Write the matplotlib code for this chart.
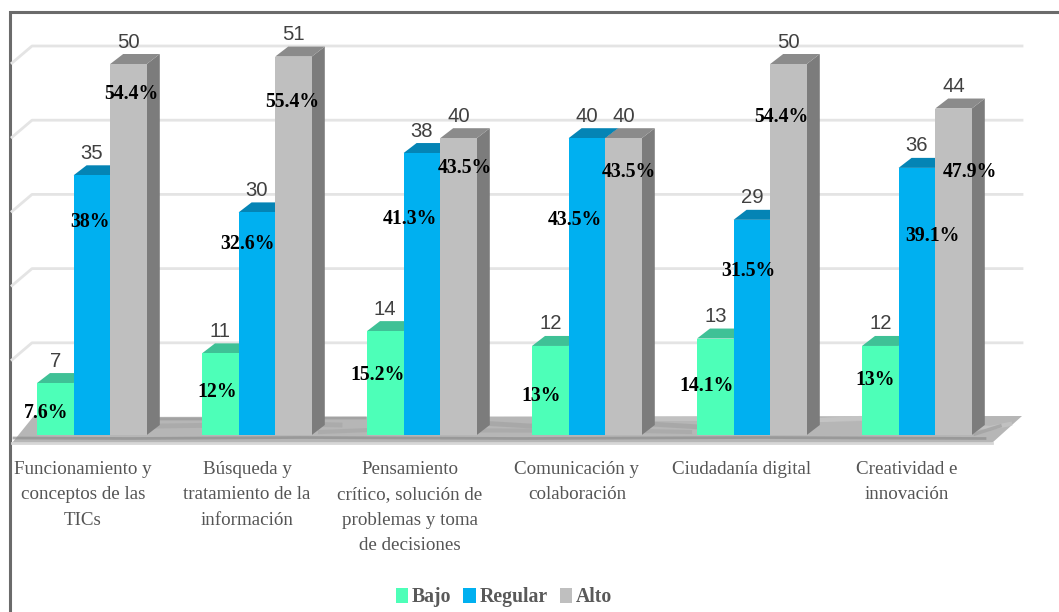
import matplotlib
matplotlib.use("Agg")
import matplotlib.pyplot as plt
from matplotlib.patches import Polygon, Patch

categories = [
    "Funcionamiento y\nconceptos de las\nTICs",
    "Búsqueda y\ntratamiento de la\ninformación",
    "Pensamiento\ncrítico, solución de\nproblemas y toma\nde decisiones",
    "Comunicación y\ncolaboración",
    "Ciudadanía digital",
    "Creatividad e\ninnovación",
]
bajo = [7, 11, 14, 12, 13, 12]
regular = [35, 30, 38, 40, 29, 36]
alto = [50, 51, 40, 40, 50, 44]
bajo_pct = ["7.6%", "12%", "15.2%", "13%", "14.1%", "13%"]
regular_pct = ["38%", "32.6%", "41.3%", "43.5%", "31.5%", "39.1%"]
alto_pct = ["54.4%", "55.4%", "43.5%", "43.5%", "54.4%", "47.9%"]
grid_values = [10, 20, 30, 40, 50]
series_names = ["Bajo", "Regular", "Alto"]

# Layout (pixels of the 1059x612 canvas)
W, H = 1059, 612
X0, GROUP = 37.0, 165.0
BASE, UNIT = 435.0, 7.42
BAR_PX = 36.6
DX_PX, DY_PX = 13.0, 10.0
front = ["#4dffb8", "#00b0f0", "#bfbfbf"]
top = ["#3fc196", "#0484b5", "#8b8b8b"]
side = ["#38a880", "#03719c", "#7c7c7c"]
pct_px = [
    [(46, 413), (90, 222), (131, 94)],
    [(217, 392), (248, 244), (292, 102)],
    [(378, 375), (410, 219), (465, 168)],
    [(541, 396), (575, 220), (629, 172)],
    [(707, 386), (748, 271), (781, 117)],
    [(875, 380), (932, 236), (970, 172)],
]
cat_center_px = [83, 247, 410, 577, 742, 907]

def dx(px):
    return (px - X0) / GROUP

def dy(py):
    return (BASE - py) / UNIT

fig = plt.figure(figsize=(W / 100, H / 100), dpi=100, facecolor="white")
ax = fig.add_axes([0, 0, 1, 1])
ax.set_xlim(dx(0), dx(W))
ax.set_ylim(dy(H), dy(0))
ax.axis("off")

SERIF = "Liberation Serif"
SANS = "Liberation Sans"

# Frame
ax.plot([dx(10), dx(10), dx(W)], [dy(H), dy(12), dy(12)], color="#6b6b6b", lw=2.2, zorder=1,
        solid_joinstyle="miter")

# Floor
floor = [(12, 443), (33, 417), (1022, 416), (992, 443)]
ax.add_patch(Polygon([(dx(a), dy(b)) for a, b in floor], closed=True, fc="#b6b6b6", ec="none", zorder=2))
streaks = [
    ([14, 130, 300, 520, 760, 985], [438, 438.5, 437.5, 438.5, 437.5, 438.5], "#8e8e8e", 2.0, 0.7),
    ([40, 100, 160, 300, 340], [425, 428, 426, 424, 425], "#a4a4a4", 3.5, 0.6),
    ([480, 530, 650, 700], [423, 426, 424, 427], "#a0a0a0", 3.5, 0.6),
    ([820, 860, 990, 1010], [420, 418, 428, 424], "#c6c6c6", 3.0, 0.7),
    ([160, 200, 320, 365], [419, 419, 418, 418], "#9a9a9a", 2.0, 0.7),
    ([640, 700, 820, 860], [419, 419, 420, 419], "#c6c6c6", 3.0, 0.7),
    ([975, 1000], [434, 426], "#a0a0a0", 2.5, 0.7),
    ([320, 370, 640, 690], [432, 430, 431, 432], "#a2a2a2", 3.0, 0.5),
]
for xs, ys, c, lw, al in streaks:
    ax.plot([dx(v) for v in xs], [dy(v) for v in ys], color=c, lw=lw, zorder=2.1, alpha=al)
ax.plot([dx(12), dx(992)], [dy(442.5), dy(442.5)], color="#d6d6d6", lw=2.0, zorder=2.2)

# Gridlines on the back wall with their diagonal returns
grid_lift = (BASE - 417.0) / UNIT
for v in grid_values:
    yv = v + grid_lift
    ax.plot([dx(12), dx(32), dx(1022)], [yv - 17 / UNIT, yv, yv], color="#e4e4e4", lw=2.0, zorder=1.5)

# Bars
bw = BAR_PX / GROUP
ddx, ddy = DX_PX / GROUP, DY_PX / UNIT
for i in range(len(categories)):
    for s, vals in enumerate([bajo, regular, alto]):
        v = vals[i]
        x = i + s * bw
        z = 3 + s
        ax.add_patch(Polygon([(x + bw, 0), (x + bw + ddx, ddy), (x + bw + ddx, v + ddy), (x + bw, v)],
                             closed=True, fc=side[s], ec="none", zorder=z))
        ax.add_patch(Polygon([(x, v), (x + ddx, v + ddy), (x + bw + ddx, v + ddy), (x + bw, v)],
                             closed=True, fc=top[s], ec="none", zorder=z))
        ax.bar(x, v, width=bw, align="edge", color=front[s], linewidth=0, zorder=z + 0.1)
        ax.text(x + bw / 2, v + 22 / UNIT, str(v), ha="center", va="center",
                family=SANS, fontsize=14.6, color="#404040", zorder=10)

# Percent labels
for i, row in enumerate(zip(bajo_pct, regular_pct, alto_pct)):
    for s, label in enumerate(row):
        px, py = pct_px[i][s]
        ax.text(dx(px), dy(py), label, ha="center", va="center", family=SERIF,
                fontweight="bold", fontsize=14.2, color="black", zorder=11)

# Category labels
for label, c in zip(categories, cat_center_px):
    ax.text(dx(c), dy(461), label, ha="center", va="top", family=SERIF, fontsize=13.7,
            color="#555555", linespacing=1.65, zorder=11)

# Legend
handles = [Patch(fc=c, ec="none", label=n) for c, n in zip(front, series_names)]
leg = ax.legend(handles=handles, ncol=3, loc="center", bbox_to_anchor=(504 / W, 1 - 597 / H),
                frameon=False, handlelength=0.62, handleheight=0.8, handletextpad=0.2,
                columnspacing=0.62, borderpad=0,
                prop={"family": SERIF, "weight": "bold", "size": 14.2})
for t in leg.get_texts():
    t.set_color("#595959")

fig.savefig("out.png", dpi=100, facecolor="white")
